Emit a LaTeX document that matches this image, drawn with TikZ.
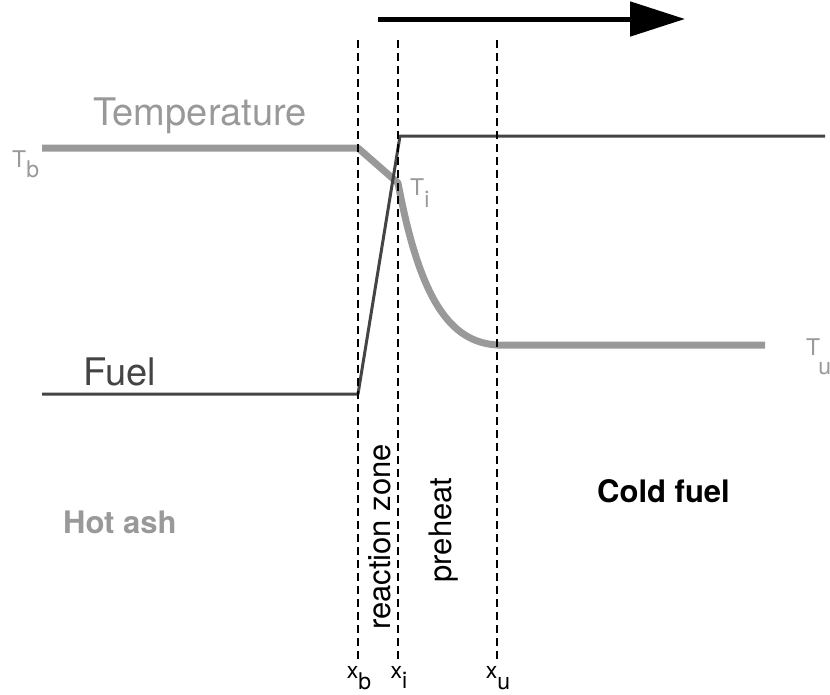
\documentclass[tikz,border=0pt]{standalone}
\usepackage{fontspec}
\setmainfont{TeX Gyre Heros}
\usetikzlibrary{arrows.meta}
\definecolor{tempgray}{HTML}{999999}
\definecolor{fuelgray}{HTML}{444444}
\tikzstyle{templine} = [draw=tempgray, line width=7pt, line join=round]
\tikzstyle{fuelline} = [draw=fuelgray, line width=3pt, line join=round]
\tikzstyle{front} = [draw=black, line width=1.5pt, dash pattern=on 8pt off 5pt]
\tikzstyle{motion} = [draw=black, line width=5pt, -{Triangle[width=34pt, length=55pt]}]
\tikzstyle{bigtext} = [inner sep=0pt, font=\fontsize{38}{40}\selectfont]
\tikzstyle{midtext} = [inner sep=0pt, font=\fontsize{31}{33}\selectfont]
\tikzstyle{smalltext} = [inner sep=0pt, font=\fontsize{23}{25}\selectfont]
\newcommand{\lowsub}[2][10pt]{\raisebox{-#1}{#2}}

\begin{document}
\begin{tikzpicture}[x=1pt, y=-1pt]
    \useasboundingbox (0,0) rectangle (830,694);

    % direction of spread
    \coordinate (arr_start) at (378,19);
    \coordinate (arr_end) at (685,19);
    \draw[motion] (arr_start) -- (arr_end);

    % temperature profile
    \coordinate (tb_start) at (42,148);
    \coordinate (tb_end) at (358,148);
    \coordinate (ti) at (398,183);
    \coordinate (tu_start) at (497,345);
    \coordinate (tu_end) at (765,345);
    \draw[templine] (tb_start) -- (tb_end) -- (ti)
        .. controls (420,300) and (450,342) .. (tu_start) -- (tu_end);

    % fuel profile
    \coordinate (fuel_start) at (42,394);
    \coordinate (fuel_low) at (358,394);
    \coordinate (fuel_high) at (400,136);
    \coordinate (fuel_end) at (825,136);
    \draw[fuelline] (fuel_start) -- (fuel_low) -- (fuel_high) -- (fuel_end);

    \foreach \x/\n/\d in {358/b/11pt,398/i/10pt,497/u/11pt}
    {
        \coordinate (top_\n) at (\x,40);
        \coordinate (bot_\n) at (\x,660);
        \draw[front] (top_\n) -- (bot_\n);
        \node[smalltext, anchor=base] (x_\n) at (\x+1,678) {x\lowsub[\d]{\n}};
    };

    \node[bigtext, anchor=base west, text=tempgray] (temp) at (93,125) {Temperature};
    \node[bigtext, anchor=base west, text=fuelgray] (fuel) at (83,385) {Fuel};
    \node[smalltext, anchor=base west, text=tempgray] (t_b) at (12,167) {T\lowsub{b}};
    \node[smalltext, anchor=base west, text=tempgray] (t_i) at (410,195) {T\lowsub[12pt]{i}};
    \node[smalltext, anchor=base west, text=tempgray] (t_u) at (806,355) {T\kern-2pt\lowsub[19pt]{u}};

    \node[midtext, anchor=base west, text=tempgray] (hot) at (63,533) {\bfseries Hot ash};
    \node[midtext, anchor=base west] (cold) at (597,502) {\bfseries Cold fuel};
    \node[midtext, rotate=90, anchor=base] (reac) at (390,537) {reaction zone};
    \node[midtext, rotate=90, anchor=base] (pre) at (451,530) {preheat};
\end{tikzpicture}
\end{document}
